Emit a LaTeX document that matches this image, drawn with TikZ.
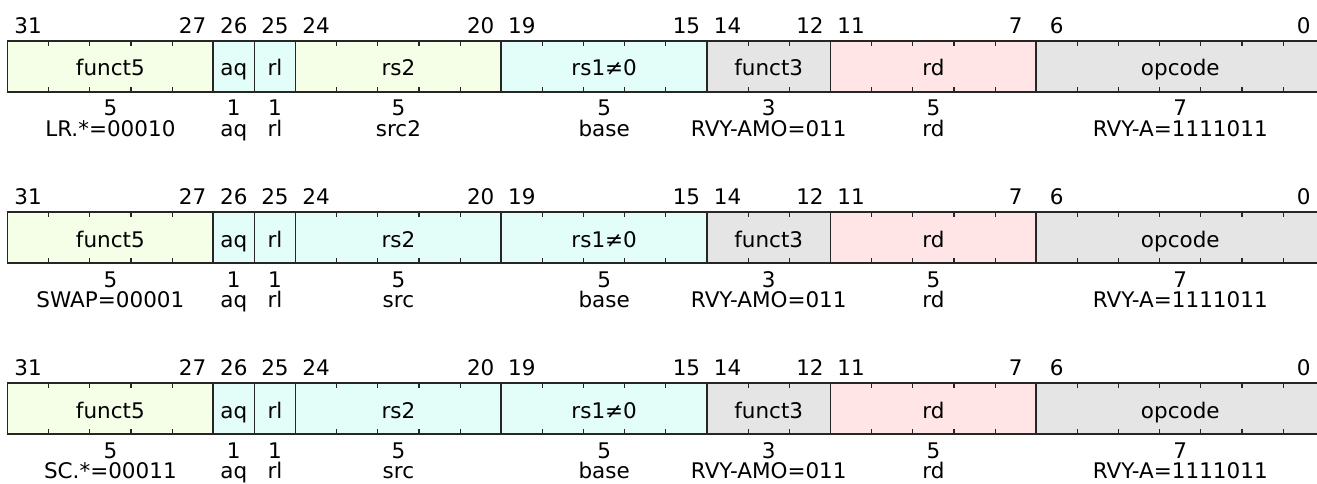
\documentclass[tikz,border=0pt]{standalone}
\usepackage{fontspec}
\setmainfont{DejaVu Sans}
\definecolor{yg}{HTML}{F5FEE6}
\definecolor{cy}{HTML}{E3FDF9}
\definecolor{pk}{HTML}{FFE5E5}
\definecolor{gy}{HTML}{E5E5E5}
\begin{document}
\begin{tikzpicture}[x=1pt,y=-1pt,
  txt/.style={font=\fontsize{21.5}{24}\selectfont, inner sep=0pt, anchor=base},
  fieldbox/.style={draw=black!85, line width=1.8pt, inner sep=0pt, minimum height=51pt,
     text height=20pt, text depth=1pt, font=\fontsize{21.5}{24}\selectfont},
  tick/.style={draw=black!85, line width=1.1pt}]
\useasboundingbox (0,0) rectangle (1317,484);
\clip (0,0) rectangle (1317,484);
\def\L{7.5}\def\W{41.15}
\foreach \r/\lA/\lD/\cD in {0/{LR.*=00010}/src2/yg, 1/{SWAP=00001}/src/cy, 2/{SC.*=00011}/src/cy} {
  \pgfmathsetmacro\T{40.7+171.3*\r}
  \pgfmathsetmacro\B{\T+51}
  \foreach [count=\i] \msb/\lsb/\nm/\col/\lab in
    {31/27/funct5/yg/\lA, 26/26/aq/cy/aq, 25/25/rl/cy/rl, 24/20/rs2/\cD/\lD,
     19/15/rs1≠0/cy/base, 14/12/funct3/gy/{RVY-AMO=011}, 11/7/rd/pk/rd,
     6/0/opcode/gy/{RVY-A=1111011}} {
    \pgfmathtruncatemacro\nb{\msb-\lsb+1}
    \pgfmathsetmacro\fw{\nb*\W}
    \pgfmathsetmacro\cx{\L+(31-\msb)*\W+\fw/2}
    \node[fieldbox, fill=\col, minimum width=\fw pt] (f\r-\i) at (\cx,\T+25.5) {\nm};
    \ifnum\msb>\lsb
      \pgfmathtruncatemacro\ks{\lsb+1}
      \foreach \k in {\ks,...,\msb} {
        \pgfmathsetmacro\tx{\L+(32-\k)*\W}
        \draw[tick] (\tx,\T) -- ++(0,5);
        \draw[tick] (\tx,\B) -- ++(0,-5);
      }
      \node[txt] (m\r-\i) at ({\L+(31-\msb+0.5)*\W},\T-7.5) {\msb};
      \node[txt] (l\r-\i) at ({\L+(31-\lsb+0.5)*\W},\T-7.5) {\lsb};
    \else
      \node[txt] (m\r-\i) at ({\L+(31-\msb+0.5)*\W},\T-7.5) {\msb};
    \fi
    \node[txt] (n\r-\i) at (\cx,\B+24) {\nb};
    \node[txt] (a\r-\i) at (\cx,\B+44.5) {\lab};
  }
}
\end{tikzpicture}
\end{document}
